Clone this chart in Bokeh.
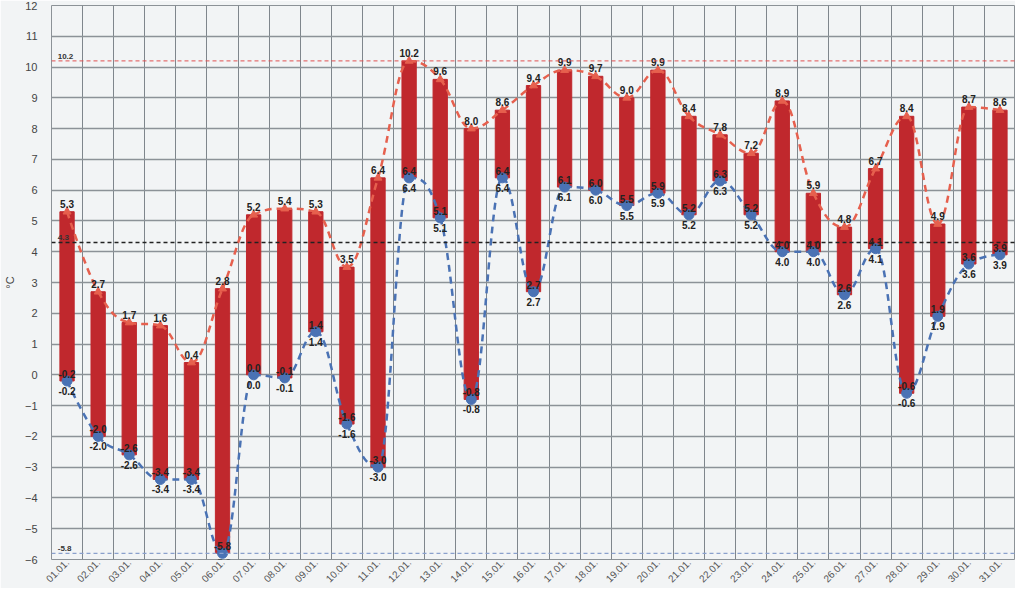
import math
from bokeh.plotting import figure
from bokeh.models import FixedTicker, ColumnDataSource, Span, Label, Range1d
from bokeh.embed import file_html
from bokeh.resources import INLINE
from bokeh.core.properties import value

days = [f"{i:02d}.01." for i in range(1, 32)]
t_max = [5.3, 2.7, 1.7, 1.6, 0.4, 2.8, 5.2, 5.4, 5.3, 3.5, 6.4, 10.2, 9.6, 8.0, 8.6, 9.4,
         9.9, 9.7, 9.0, 9.9, 8.4, 7.8, 7.2, 8.9, 5.9, 4.8, 6.7, 8.4, 4.9, 8.7, 8.6]
t_min = [-0.2, -2.0, -2.6, -3.4, -3.4, -5.8, 0.0, -0.1, 1.4, -1.6, -3.0, 6.4, 5.1, -0.8, 6.4, 2.7,
         6.1, 6.0, 5.5, 5.9, 5.2, 6.3, 5.2, 4.0, 4.0, 2.6, 4.1, -0.6, 1.9, 3.6, 3.9]
mean_value = 4.3
max_value = 10.2
min_value = -5.8
y_ticks = list(range(-6, 13))

FONT = "Liberation Sans"
BG = "#f2f4f5"
BAR = "#c0282d"
RED_LINE = "#e6604e"
BLUE = "#4a72b4"

x = list(range(len(days)))

p = figure(width=1015, height=588, output_backend="svg", toolbar_location=None,
           x_range=Range1d(-0.5, len(days) - 0.5), y_range=Range1d(-6, 12),
           min_border_left=38, min_border_top=5, min_border_right=0, min_border_bottom=0)
p.background_fill_color = BG
p.border_fill_color = BG
p.outline_line_color = "#8c9297"

# axes
p.xaxis.ticker = FixedTicker(ticks=x)
p.xaxis.major_label_overrides = {i: d for i, d in enumerate(days)}
p.xaxis.major_label_orientation = math.pi / 4
p.xaxis.major_label_text_font = FONT
p.xaxis.major_label_text_font_size = "10px"
p.xaxis.major_label_text_color = "#555555"
p.xaxis.axis_line_color = None
p.xaxis.major_tick_line_color = None
p.xaxis.minor_tick_line_color = None
p.xaxis.major_tick_out = 0
p.xaxis.major_tick_in = 0
p.xaxis.major_label_standoff = 1

p.yaxis.ticker = FixedTicker(ticks=y_ticks)
p.yaxis.major_label_text_font = FONT
p.yaxis.major_label_text_font_size = "11px"
p.yaxis.major_label_text_color = "#444444"
p.yaxis.axis_line_color = None
p.yaxis.major_tick_line_color = None
p.yaxis.minor_tick_line_color = None
p.yaxis.major_tick_out = 0
p.yaxis.major_label_standoff = 14
p.yaxis.axis_label = "°C"
p.yaxis.axis_label_text_font = FONT
p.yaxis.axis_label_text_font_style = "normal"
p.yaxis.axis_label_text_font_size = "11px"
p.yaxis.axis_label_text_color = "#444444"
p.yaxis.axis_label_standoff = 6

p.xgrid.ticker = FixedTicker(ticks=[i + 0.5 for i in range(-1, len(days))])
p.xgrid.grid_line_color = "#7f868c"
p.xgrid.grid_line_width = 1
p.ygrid.ticker = FixedTicker(ticks=y_ticks)
p.ygrid.grid_line_color = "#8c9297"
p.ygrid.grid_line_width = 1.3

# reference lines
p.add_layout(Span(location=max_value, dimension="width", line_color="#e05050",
                  line_dash="4 3", line_width=1))
p.add_layout(Span(location=mean_value, dimension="width", line_color="#222222",
                  line_dash="4 3", line_width=1.3))
p.add_layout(Span(location=min_value, dimension="width", line_color="#8aa0cc",
                  line_dash="4 3", line_width=1.2))
for v in (max_value, mean_value, min_value):
    p.add_layout(Label(x=-0.3, y=v, text=f"{v:.1f}", text_font=FONT, text_font_size="8px",
                       text_font_style="bold", text_color="#333333", y_offset=2,
                       text_baseline="bottom"))

src = ColumnDataSource(dict(x=x, top=t_max, bottom=t_min,
                            tl=[f"{v:.1f}" for v in t_max], bl=[f"{v:.1f}" for v in t_min]))

p.vbar(x="x", top="top", bottom="bottom", width=0.46, fill_color=BAR, line_color=BAR, source=src)


def spline(xs, ys, smoothing=1.5):
    """Spline control points without false extremes (horizontal tangents at peaks)."""
    n = len(xs)
    denom = smoothing + 1
    lc = [(xs[i], ys[i]) for i in range(n)]
    rc = [(xs[i], ys[i]) for i in range(n)]
    for i in range(1, n - 1):
        px, py = xs[i], ys[i]
        lx, ly = xs[i - 1], ys[i - 1]
        nx, ny = xs[i + 1], ys[i + 1]
        lcx = (smoothing * px + lx) / denom
        lcy = (smoothing * py + ly) / denom
        rcx = (smoothing * px + nx) / denom
        rcy = (smoothing * py + ny) / denom
        corr = 0.0
        if rcx != lcx:
            corr = ((rcy - lcy) * (rcx - px)) / (rcx - lcx) + py - rcy
        lcy += corr
        rcy += corr
        if lcy > ly and lcy > py:
            lcy = max(ly, py); rcy = 2 * py - lcy
        elif lcy < ly and lcy < py:
            lcy = min(ly, py); rcy = 2 * py - lcy
        if rcy > ny and rcy > py:
            rcy = max(ny, py); lcy = 2 * py - rcy
        elif rcy < ny and rcy < py:
            rcy = min(ny, py); lcy = 2 * py - rcy
        lc[i] = (lcx, lcy)
        rc[i] = (rcx, rcy)
    d = dict(x0=[], y0=[], x1=[], y1=[], cx0=[], cy0=[], cx1=[], cy1=[])
    for i in range(n - 1):
        d["x0"].append(xs[i]); d["y0"].append(ys[i])
        d["x1"].append(xs[i + 1]); d["y1"].append(ys[i + 1])
        d["cx0"].append(rc[i][0]); d["cy0"].append(rc[i][1])
        d["cx1"].append(lc[i + 1][0]); d["cy1"].append(lc[i + 1][1])
    return d


p.bezier(source=ColumnDataSource(spline(x, t_max)), x0="x0", y0="y0", x1="x1", y1="y1",
         cx0="cx0", cy0="cy0", cx1="cx1", cy1="cy1", line_color=RED_LINE, line_width=2.5,
         line_dash="7 5")
p.bezier(source=ColumnDataSource(spline(x, t_min)), x0="x0", y0="y0", x1="x1", y1="y1",
         cx0="cx0", cy0="cy0", cx1="cx1", cy1="cy1", line_color=BLUE, line_width=2.5,
         line_dash="7 5")

p.scatter(x="x", y="top", source=src, marker="triangle", size=8, fill_color=RED_LINE,
          line_color=RED_LINE)
p.scatter(x="x", y="bottom", source=src, marker="circle", size=10, fill_color=BLUE,
          line_color=BLUE)

p.text(x="x", y="top", text="tl", source=src, text_font=value(FONT), text_font_size="10px",
       text_font_style="bold", text_color="#222222", text_align="center",
       text_baseline="bottom", y_offset=-4)
p.text(x="x", y="bottom", text="bl", source=src, text_font=value(FONT), text_font_size="10px",
       text_font_style="bold", text_color="#222222", text_align="center",
       text_baseline="bottom", y_offset=-3)
p.text(x="x", y="bottom", text="bl", source=src, text_font=value(FONT), text_font_size="10px",
       text_font_style="bold", text_color="#222222", text_align="center",
       text_baseline="top", y_offset=6)

open("out.html", "w").write(file_html(p, INLINE))
